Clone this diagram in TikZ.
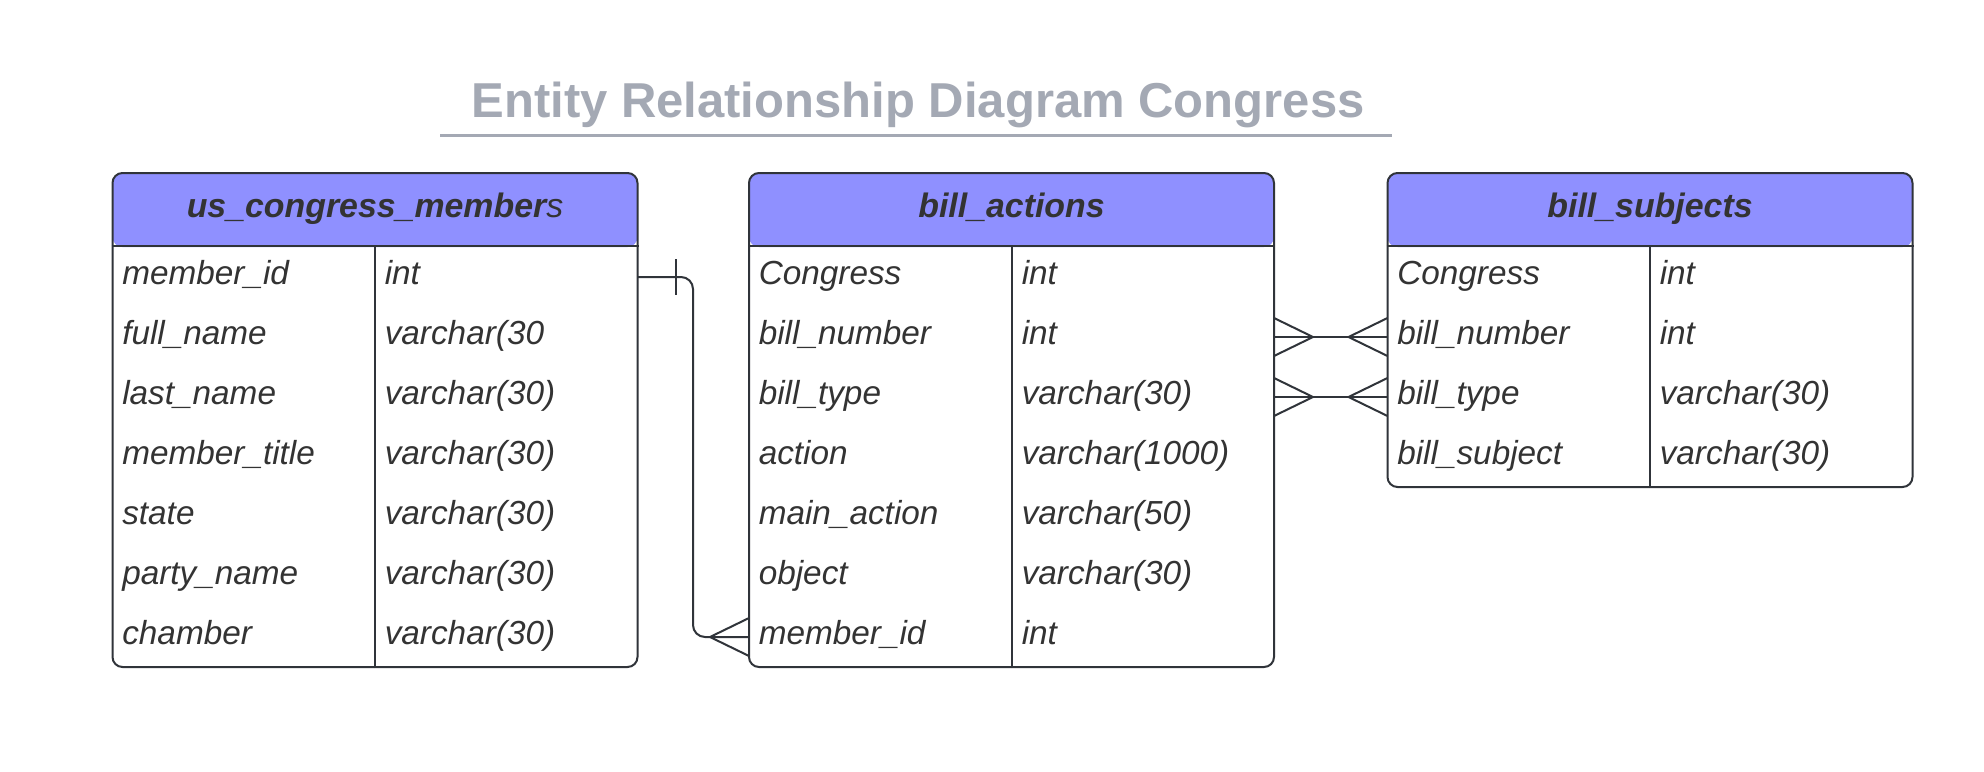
\documentclass[tikz,border=0pt]{standalone}
\usepackage{fontspec}
\setmainfont{Liberation Sans}
\definecolor{hdr}{HTML}{8F90FF}
\definecolor{ln}{HTML}{30343A}
\definecolor{txt}{HTML}{333333}
\definecolor{ttl}{HTML}{A4A9B4}
\tikzset{
  tbl/.style={rectangle, draw=ln, line width=1.5pt, rounded corners=7.5pt, fill=white,
    minimum width=393.75pt, inner sep=0pt,
    path picture={\fill[hdr] (path picture bounding box.north west) rectangle ([yshift=-55.5pt]path picture bounding box.north east);}},
  sep/.style={draw=ln, line width=1.5pt},
  conn/.style={draw=ln, line width=1.5pt},
  rowtxt/.style={font=\fontsize{25}{29}\selectfont\itshape, text=txt, anchor=base west, inner sep=0pt},
  hdrtxt/.style={font=\fontsize{25.4}{30}\selectfont\bfseries\itshape, text=txt, anchor=base, inner sep=0pt},
  ttltxt/.style={font=\fontsize{36.75}{44}\selectfont\bfseries, text=ttl, anchor=base, inner sep=0pt},
}
\begin{document}
\begin{tikzpicture}[x=0.75pt,y=-0.75pt]
\useasboundingbox[fill=white] (0,0) rectangle (1984,771);

% title
\node[ttltxt] (title) at (918,117) {Entity Relationship Diagram Congress};
\draw[ttl, line width=2.25pt] (440,135) -- (1392,135);

% tables
\node[tbl, minimum height=370.5pt] (us) at (375,420) {};
\node[tbl, minimum height=370.5pt] (ba) at (1011.5,420) {};
\node[tbl, minimum height=235.5pt] (bs) at (1650,330) {};

\foreach \t in {us,ba,bs}{
  \draw[sep] ([yshift=-55.5pt]\t.north west) -- ([yshift=-55.5pt]\t.north east);
  \draw[sep] (\t.south) -- ([yshift=-55.5pt]\t.north);
}

% headers
\node[hdrtxt] (us-h) at (375,217.5) {{\bfseries us\_congress\_member}{\mdseries s}};
\node[hdrtxt] (ba-h) at (1011.5,217.5) {bill\_actions};
\node[hdrtxt] (bs-h) at (1650,217.5) {bill\_subjects};

% rows
\foreach \n/\ty [count=\i] in {member\_id/int, full\_name/varchar(30, last\_name/varchar(30), member\_title/varchar(30), state/varchar(30), party\_name/varchar(30), chamber/varchar(30)}{
  \node[rowtxt] (us-n\i) at (122,224+60*\i) {\n};
  \node[rowtxt] (us-t\i) at (384.5,224+60*\i) {\ty};
  \coordinate (us-r\i) at (637.5,217+60*\i);
}
\foreach \n/\ty [count=\i] in {Congress/int, bill\_number/int, bill\_type/varchar(30), action/varchar(1000), main\_action/varchar(50), object/varchar(30), member\_id/int}{
  \node[rowtxt] (ba-n\i) at (758.5,224+60*\i) {\n};
  \node[rowtxt] (ba-t\i) at (1021.5,224+60*\i) {\ty};
  \coordinate (ba-l\i) at (749,217+60*\i);
  \coordinate (ba-r\i) at (1274,217+60*\i);
}
\foreach \n/\ty [count=\i] in {Congress/int, bill\_number/int, bill\_type/varchar(30), bill\_subject/varchar(30)}{
  \node[rowtxt] (bs-n\i) at (1397,224+60*\i) {\n};
  \node[rowtxt] (bs-t\i) at (1659.5,224+60*\i) {\ty};
  \coordinate (bs-l\i) at (1387.5,217+60*\i);
}

% connector: us_congress_members.member_id -> bill_actions.member_id
\draw[conn, rounded corners=9pt] (us-r1) -| ([xshift=-42pt]ba-l7) -- (ba-l7);
\draw[conn] ([xshift=28.5pt]us-r1) ++(0,-18) -- ++(0,36);
\draw[conn] (ba-l7) ++(-39,0) coordinate (cfa) -- ++(39,-19) (cfa) -- ++(39,19);

% connectors: bill_actions <-> bill_subjects
\foreach \i in {2,3}{
  \draw[conn] (ba-r\i) -- (bs-l\i);
  \draw[conn] (ba-r\i) ++(39,0) coordinate (cfl\i) -- ++(-39,-19) (cfl\i) -- ++(-39,19);
  \draw[conn] (bs-l\i) ++(-39,0) coordinate (cfr\i) -- ++(39,-19) (cfr\i) -- ++(39,19);
}
\end{tikzpicture}
\end{document}
